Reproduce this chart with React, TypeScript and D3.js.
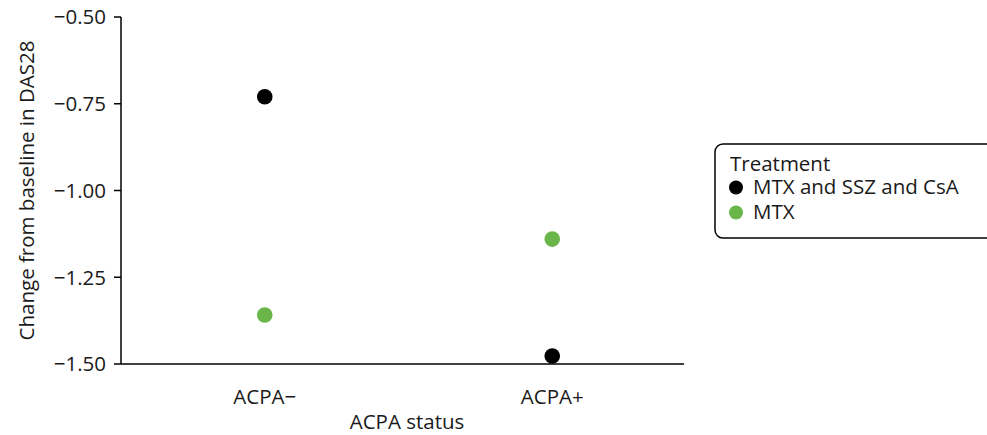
import React from "react";
import * as d3 from "d3";

const categories = ["ACPA−", "ACPA+"];
const seriesNames = ["MTX and SSZ and CsA", "MTX"];
const seriesColors = ["#000000", "#6ab64a"];
const comboValues = [-0.73, -1.477];
const mtxValues = [-1.359, -1.14];
const yTicks = [-0.5, -0.75, -1.0, -1.25, -1.5];

const W = 987;
const H = 435;
const left = 121;
const axisRight = 684;
const scaleRight = 696;
const top = 17;
const bottom = 364;
const font = "'Open Sans', sans-serif";
const fs = 20.5;

export default function App() {
  const x = d3.scalePoint<string>().domain(categories).range([left, scaleRight]).padding(0.5);
  const y = d3.scaleLinear().domain([-1.5, -0.5]).range([bottom, top]);
  const fmt = (v: number) => d3.format(".2f")(v).replace("-", "−");
  const series = [comboValues, mtxValues];
  return (
    <svg width={W} height={H} style={{ position: "absolute", left: 0, top: 0 }} fontFamily={font} fill="#1a1a1a">
      <line x1={left} x2={left} y1={top} y2={bottom} stroke="#000" strokeWidth={1.5} />
      <line x1={left} x2={axisRight} y1={bottom} y2={bottom} stroke="#000" strokeWidth={1.5} />
      {yTicks.map((t) => (
        <g key={t}>
          <line x1={left - 7} x2={left} y1={y(t)} y2={y(t)} stroke="#000" strokeWidth={1.5} />
          <text x={left - 15} y={y(t)} dy="0.36em" textAnchor="end" fontSize={fs}>
            {fmt(t)}
          </text>
        </g>
      ))}
      {categories.map((c) => (
        <text key={c} x={x(c)} y={404} textAnchor="middle" fontSize={fs}>
          {c}
        </text>
      ))}
      <text x={407} y={429} textAnchor="middle" fontSize={fs}>
        ACPA status
      </text>
      <text transform={`translate(34,${(top + bottom) / 2}) rotate(-90)`} textAnchor="middle" fontSize={fs}>
        Change from baseline in DAS28
      </text>
      {series.map((vals, si) =>
        vals.map((v, i) => (
          <circle key={`${si}-${i}`} cx={x(categories[i])} cy={y(v)} r={7.8} fill={seriesColors[si]} />
        ))
      )}
      <rect x={715} y={144} width={290} height={94} rx={8} fill="#fff" stroke="#000" strokeWidth={1.5} />
      <text x={730} y={171} fontSize={fs}>Treatment</text>
      {seriesNames.map((n, i) => (
        <g key={n}>
          <circle cx={736} cy={187.5 + i * 25} r={7} fill={seriesColors[i]} />
          <text x={753} y={194 + i * 25} fontSize={fs}>
            {n}
          </text>
        </g>
      ))}
    </svg>
  );
}
